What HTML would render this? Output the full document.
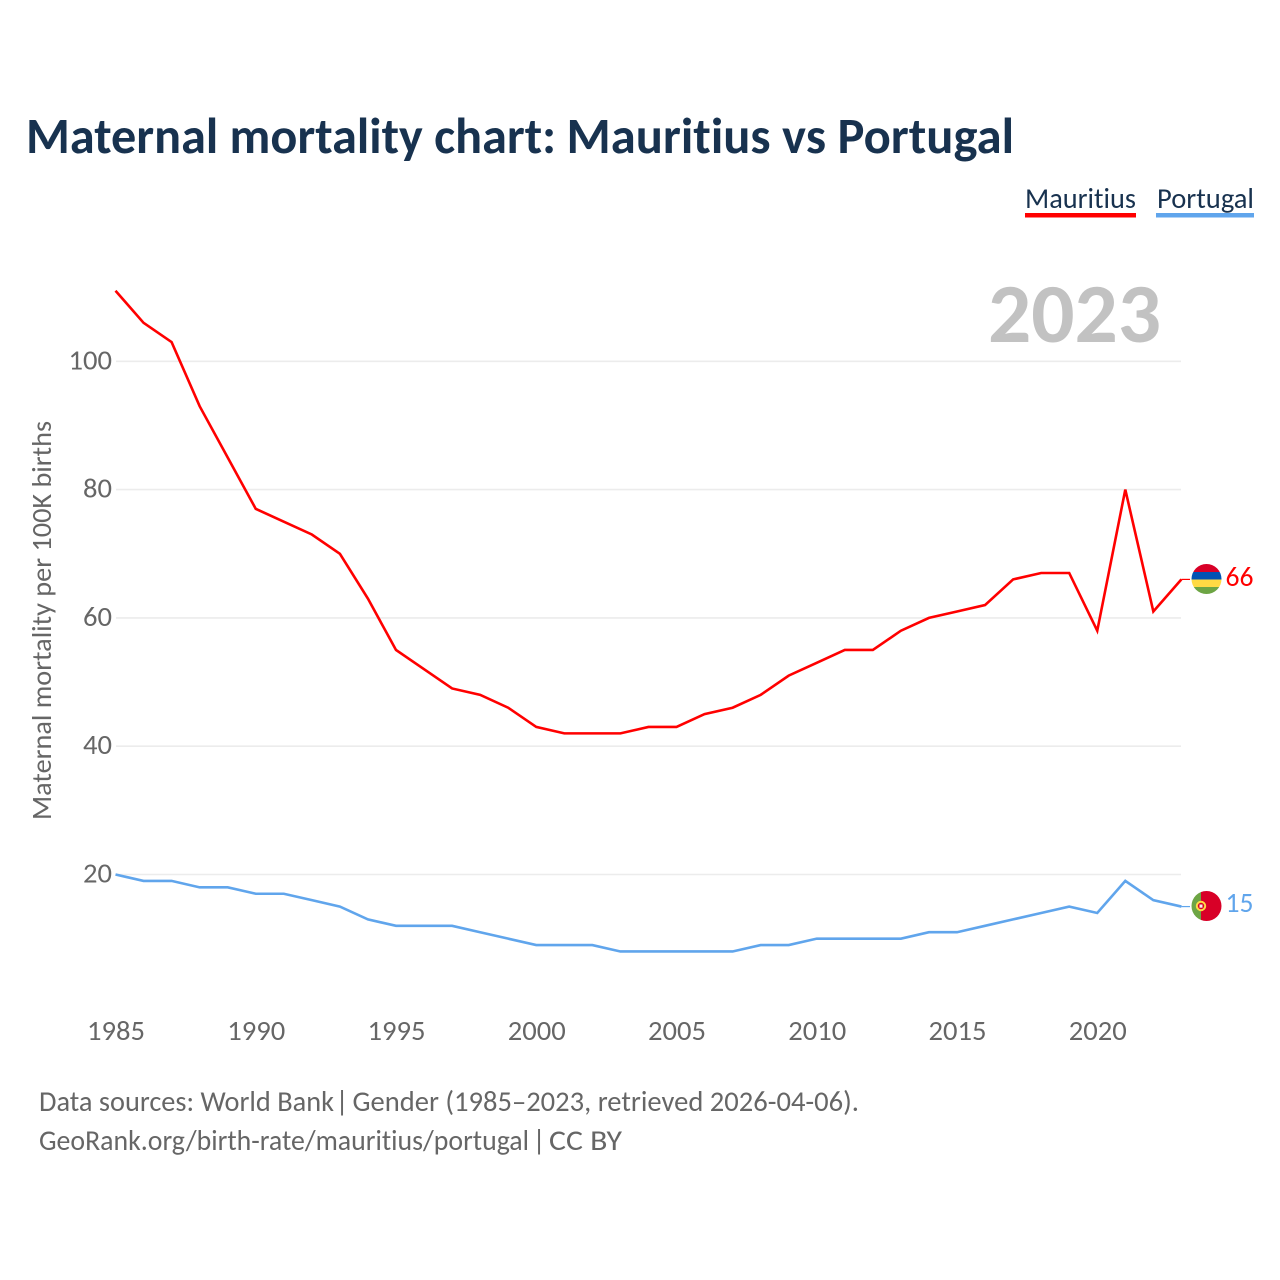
<!DOCTYPE html>
<html lang="en">
<head>
<meta charset="utf-8">
<title>Maternal mortality chart: Mauritius vs Portugal</title>
<style>
html,body{margin:0;padding:0;background:#fff;width:1280px;height:1280px;overflow:hidden}
svg{display:block}
text{font-family:"Carlito","Lato","Liberation Sans",sans-serif;font-variant-ligatures:none;font-feature-settings:"liga" 0,"clig" 0}
</style>
</head>
<body>
<svg id="chart" xmlns="http://www.w3.org/2000/svg" width="1280" height="1280" viewBox="0 0 1280 1280">
<rect width="1280" height="1280" fill="#fff"/>
<g>
<text x="26" y="153" font-size="51" font-weight="700" fill="#18324f" textLength="530" lengthAdjust="spacingAndGlyphs">Maternal mortality chart:</text>
<text x="566.5" y="153" font-size="51" font-weight="700" fill="#18324f" textLength="447.5" lengthAdjust="spacingAndGlyphs">Mauritius vs Portugal</text>
</g>
<g>
<text x="1025" y="208" font-size="29" fill="#18324f" textLength="111" lengthAdjust="spacingAndGlyphs">Mauritius</text>
<rect x="1025" y="213" width="111" height="4.5" fill="#ff0000"/>
<text x="1157" y="208" font-size="29" fill="#18324f" textLength="97" lengthAdjust="spacingAndGlyphs">Portugal</text>
<rect x="1156" y="213" width="98" height="4.5" fill="#60a5ec"/>
</g>
<text x="988" y="342" font-size="84" font-weight="700" fill="#c2c2c2" textLength="173" lengthAdjust="spacingAndGlyphs">2023</text>
<g id="grid"></g>
<g id="ylabels"></g>
<g id="xlabels"></g>
<text transform="translate(51,820) rotate(-90)" font-size="27.5" fill="#666" textLength="399" lengthAdjust="spacingAndGlyphs">Maternal mortality per 100K births</text>
<polyline id="line-mauritius" fill="none" stroke="#ff0000" stroke-width="2.6" stroke-linejoin="miter"/>
<polyline id="line-portugal" fill="none" stroke="#60a5ec" stroke-width="2.6" stroke-linejoin="miter"/>
<line id="tail-mauritius" stroke="#ff0000" stroke-width="1.2"/>
<line id="tail-portugal" stroke="#60a5ec" stroke-width="1.2"/>
<defs>
<clipPath id="clip-mu"><circle cx="1206.5" cy="579" r="15"/></clipPath>
<clipPath id="clip-pt"><circle cx="1206.5" cy="906" r="15"/></clipPath>
</defs>
<g clip-path="url(#clip-mu)">
<rect x="1191" y="564" width="31" height="8" fill="#d80027"/>
<rect x="1191" y="572" width="31" height="7.5" fill="#0052b4"/>
<rect x="1191" y="579.5" width="31" height="7.5" fill="#ffda44"/>
<rect x="1191" y="587" width="31" height="8" fill="#6da544"/>
</g>
<g clip-path="url(#clip-pt)">
<rect x="1191" y="891" width="10.5" height="31" fill="#6da544"/>
<rect x="1201" y="891" width="21" height="31" fill="#d80027"/>
<circle cx="1201" cy="906" r="4.2" fill="#d80027" stroke="#ffda44" stroke-width="2"/>
<rect x="1199.5" y="904.5" width="3" height="3.2" fill="#f0f0f0"/>
</g>
<text id="value-mauritius" x="1225.5" y="586" font-size="27.5" fill="#ff0000" textLength="28" lengthAdjust="spacingAndGlyphs"></text>
<text id="value-portugal" x="1225.5" y="912" font-size="27.5" fill="#60a5ec" textLength="28" lengthAdjust="spacingAndGlyphs"></text>
<g>
<text x="39" y="1111" font-size="29" fill="#666" textLength="295" lengthAdjust="spacingAndGlyphs">Data sources: World Bank</text>
<text x="342" y="1111" font-size="29" fill="#666" text-anchor="middle">|</text>
<text x="352.5" y="1111" font-size="29" fill="#666" textLength="506.5" lengthAdjust="spacingAndGlyphs">Gender (1985–2023, retrieved 2026-04-06).</text>
<text x="39" y="1150" font-size="29" fill="#666" textLength="490" lengthAdjust="spacingAndGlyphs">GeoRank.org/birth-rate/mauritius/portugal</text>
<text x="539" y="1150" font-size="29" fill="#666" text-anchor="middle">|</text>
<text x="549" y="1150" font-size="29" fill="#666" textLength="73" lengthAdjust="spacingAndGlyphs">CC BY</text>
</g>
</svg>
<script>
const years = [1985,1986,1987,1988,1989,1990,1991,1992,1993,1994,1995,1996,1997,1998,1999,2000,2001,2002,2003,2004,2005,2006,2007,2008,2009,2010,2011,2012,2013,2014,2015,2016,2017,2018,2019,2020,2021,2022,2023];
const mauritius = [111,106,103,93,85,77,75,73,70,63,55,52,49,48,46,43,42,42,42,43,43,45,46,48,51,53,55,55,58,60,61,62,66,67,67,58,80,61,66];
const portugal = [20,19,19,18,18,17,17,16,15,13,12,12,12,11,10,9,9,9,8,8,8,8,8,9,9,10,10,10,10,11,11,12,13,14,15,14,19,16,15];
const yTicks = [20,40,60,80,100];
const xTicks = [1985,1990,1995,2000,2005,2010,2015,2020];

const NS = 'http://www.w3.org/2000/svg';
function xScale(year){ return 115.5 + (year - 1985) * 28.05; }
function yScale(value){ return 1002.8 - value * 6.415; }
function points(series){ return series.map(function(v,i){ return xScale(years[i]).toFixed(2) + ',' + yScale(v).toFixed(2); }).join(' '); }

const grid = document.getElementById('grid');
const ylabels = document.getElementById('ylabels');
const xlabels = document.getElementById('xlabels');

yTicks.forEach(function(t){
  const line = document.createElementNS(NS,'line');
  
  
  line.setAttribute('x1', 116);
  line.setAttribute('x2', 1181);
  line.setAttribute('y1', yScale(t));
  line.setAttribute('y2', yScale(t));
  line.setAttribute('stroke', '#ececec');
  line.setAttribute('stroke-width', 1.6);
  grid.appendChild(line);
  const label = document.createElementNS(NS,'text');
  
  
  label.setAttribute('x', 112);
  label.setAttribute('y', yScale(t) + 8);
  label.setAttribute('text-anchor', 'end');
  label.setAttribute('font-size', 27.5);
  label.setAttribute('fill', '#666');
  label.setAttribute('textLength', String(t).length * 14.5);
  label.setAttribute('lengthAdjust', 'spacingAndGlyphs');
  label.textContent = t;
  ylabels.appendChild(label);
});

xTicks.forEach(function(t){
  const label = document.createElementNS(NS,'text');
  
  
  label.setAttribute('x', xScale(t) + 0.5);
  label.setAttribute('y', 1040);
  label.setAttribute('text-anchor', 'middle');
  label.setAttribute('font-size', 27.5);
  label.setAttribute('fill', '#666');
  label.setAttribute('textLength', 58);
  label.setAttribute('lengthAdjust', 'spacingAndGlyphs');
  label.textContent = t;
  xlabels.appendChild(label);
});

document.getElementById('line-mauritius').setAttribute('points', points(mauritius));
document.getElementById('line-portugal').setAttribute('points', points(portugal));

function tail(id, series){
  const el = document.getElementById(id);
  const last = yScale(series[series.length - 1]);
  el.setAttribute('x1', xScale(years[years.length - 1]));
  el.setAttribute('x2', 1190);
  el.setAttribute('y1', last);
  el.setAttribute('y2', last);
}
tail('tail-mauritius', mauritius);
tail('tail-portugal', portugal);
document.getElementById('value-mauritius').textContent = mauritius[mauritius.length - 1];
document.getElementById('value-portugal').textContent = portugal[portugal.length - 1];
</script>
</body>
</html>
